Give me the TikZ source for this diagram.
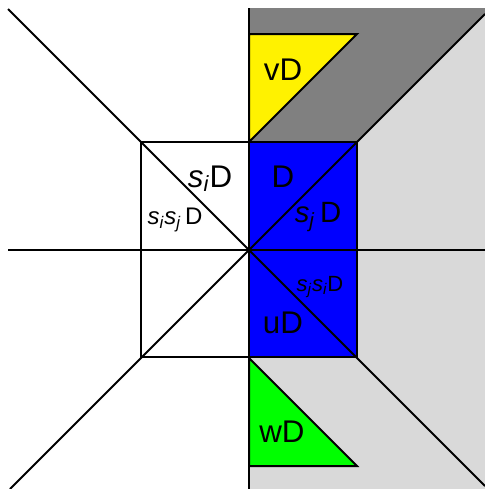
\documentclass[tikz,border=0pt]{standalone}
\usepackage{fontspec}
\setmainfont{Liberation Sans}
\newcommand{\gsub}[2]{\textit{#1}\textsubscript{\textit{#2}}}
\begin{document}
\begin{tikzpicture}[x=0.75pt,y=-0.75pt,
  edge/.style={line width=1.5pt,draw=black},
  lbl/.style={anchor=base,inner sep=0pt,font=\fontsize{23.5}{25}\selectfont},
  lblm/.style={anchor=base,inner sep=0pt,font=\fontsize{22}{24}\selectfont},
  lbls/.style={anchor=base,inner sep=0pt,font=\fontsize{18}{20}\selectfont},
  lblxs/.style={anchor=base,inner sep=0pt,font=\fontsize{16.5}{18}\selectfont}]
\useasboundingbox (0,0) rectangle (485,489);
\coordinate (O) at (249,250);
% light gray half plane
\fill[gray!30] (249,8) rectangle (485,489);
% dark gray region
\fill[gray] (249,8) -- (485,8) -- (485,14) -- (357,142) -- (249,142) -- cycle;
% blue rectangle
\fill[blue] (249,142) rectangle (357,357);
% yellow and green triangles
\filldraw[fill=yellow,edge] (249,142) -- (249,34) -- (357,34) -- cycle;
\filldraw[fill=green,edge] (249,358) -- (249,466) -- (357,466) -- cycle;
% axes
\draw[edge] (249,8) -- (249,489);
\draw[edge] (8,250) -- (485,250);
% diagonals
\draw[edge] (8,9) -- (O) -- (485,486);
\draw[edge] (10,489) -- (O) -- (485,14);
% squares
\draw[edge] (141,142) rectangle (357,357);
\draw[edge] (141,250) -- (357,250);
% labels
\node[lbl] (siD) at (210,187) {\gsub{s}{i}D};
\node[lbls] (sisjD) at (175,224) {\gsub{s}{i}\gsub{s}{j}\,D};
\node[lbl] (D) at (283,187) {D};
\node[lblm] (sjD) at (318,222) {\gsub{s}{j}\,D};
\node[lblxs] (sjsiD) at (320,291) {\gsub{s}{j}\gsub{s}{i}D};
\node[lbl] (uD) at (283,333) {uD};
\node[lbl] (vD) at (283,80) {vD};
\node[lbl] (wD) at (282,442) {wD};
\end{tikzpicture}
\end{document}
